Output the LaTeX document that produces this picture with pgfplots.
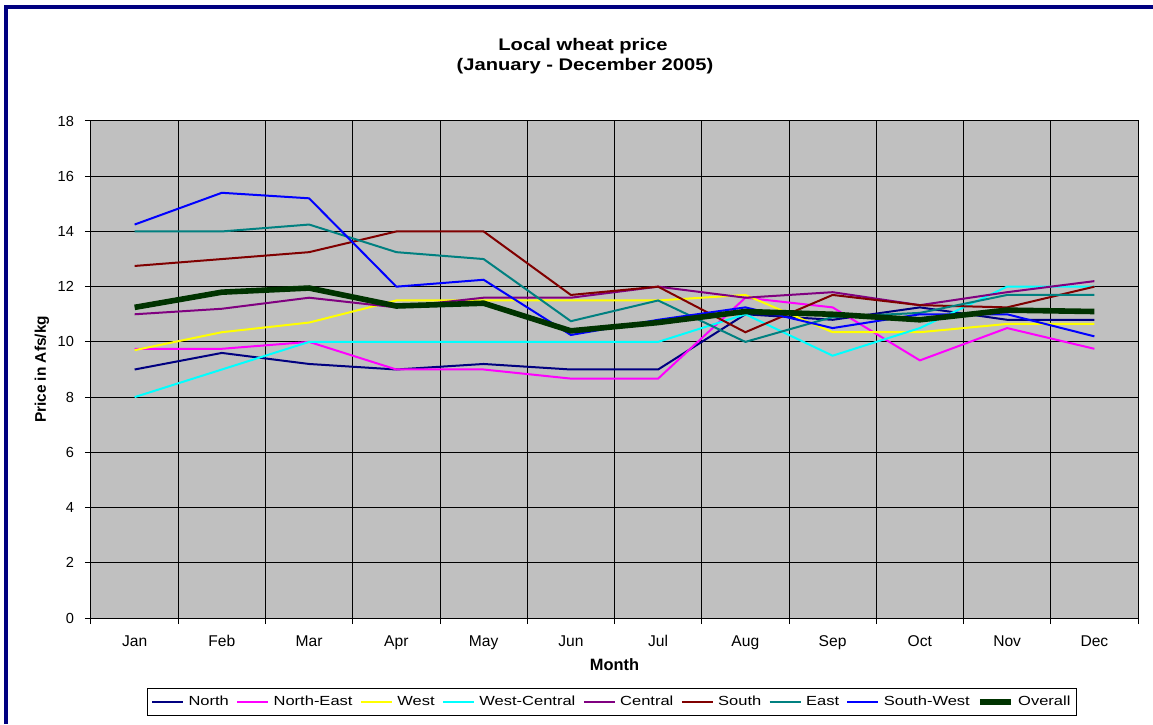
\documentclass[border=0pt]{standalone}
\usepackage{fontspec}
\setmainfont{Liberation Sans}
\newfontfamily\titlefont[FakeStretch=1.2]{Liberation Sans}
\newfontfamily\legfont[FakeStretch=1.25]{Liberation Sans}
\usepackage{pgfplots}
\usepackage{pgfplotstable}
\pgfplotsset{compat=1.18}
\definecolor{cNorth}{RGB}{0,0,128}
\definecolor{cNE}{RGB}{255,0,255}
\definecolor{cWest}{RGB}{255,255,0}
\definecolor{cWC}{RGB}{0,255,255}
\definecolor{cCentral}{RGB}{128,0,128}
\definecolor{cSouth}{RGB}{128,0,0}
\definecolor{cEast}{RGB}{0,128,128}
\definecolor{cSW}{RGB}{0,0,255}
\definecolor{cOverall}{RGB}{0,51,0}
\definecolor{plotbg}{RGB}{192,192,192}
\definecolor{frame}{RGB}{0,0,128}
\pgfplotstableread{
m North NE West WC Central South East SW Overall
1  9.0  9.75 9.7   8.0  11.0  12.75 14.0  14.25 11.25
2  9.6  9.75 10.35 9.0  11.2  13.0  14.0  15.4  11.8
3  9.2  10.0 10.7  10.0 11.6  13.25 14.25 15.2  11.95
4  9.0  9.0  11.5  10.0 11.25 14.0  13.25 12.0  11.3
5  9.2  9.0  11.5  10.0 11.6  14.0  13.0  12.25 11.4
6  9.0  8.67 11.5  10.0 11.6  11.7  10.75 10.25 10.4
7  9.0  8.67 11.5  10.0 12.0  12.0  11.5  10.8  10.7
8  11.0 11.6 11.7  11.0 11.6  10.35 10.0  11.25 11.1
9  10.8 11.25 10.35 9.5 11.8  11.7  10.9  10.5  11.0
10 11.25 9.33 10.35 10.5 11.33 11.33 11.05 11.0 10.8
11 10.8 10.5 10.65 12.0 11.8  11.25 11.7  11.0  11.15
12 10.8 9.75 10.65 12.0 12.2  12.0  11.7  10.2  11.1
}\wheat
\begin{document}
\begin{tikzpicture}
\path[use as bounding box] (0pt,0pt) rectangle (576.5pt,362pt);
\draw[frame, line width=2pt] (3pt,0pt) -- (3pt,358.5pt) -- (576.5pt,358.5pt);
\begin{axis}[
  at={(45.5pt,53pt)}, anchor=south west,
  scale only axis, width=523.5pt, height=248.5pt,
  axis background/.style={fill=plotbg},
  xmin=0.5, xmax=12.5, ymin=0, ymax=18,
  xtick={0.5,1.5,...,12.5},
  x tick label as interval,
  xticklabels={Jan,Feb,Mar,Apr,May,Jun,Jul,Aug,Sep,Oct,Nov,Dec},
  ytick={0,2,...,18},
  tick pos=left, tick align=outside,
  major tick length=3pt,
  grid=major,
  major grid style={black, line width=0.5pt},
  axis line style={black, line width=0.5pt},
  tick style={black, line width=0.5pt},
  /pgf/number format/assume math mode=true,
  xticklabel style={font=\fontsize{7.8}{9}\selectfont, text height=1.6ex, text depth=0.3ex, yshift=0.5pt},
  yticklabel style={font=\fontsize{7.3}{9}\selectfont, xshift=-2pt},
  xlabel={Month},
  xlabel style={font=\bfseries\fontsize{8.2}{9}\selectfont, at={(axis description cs:0.5,-0.0946)}, anchor=center},
  ylabel={Price in Afs/kg},
  ylabel style={font=\bfseries\fontsize{7.7}{9}\selectfont, at={(axis description cs:-0.0468,0.5)}, anchor=center},
  legend columns=9,
  legend style={at={(axis description cs:0.4976,-0.169)}, anchor=center,
    draw=black, line width=0.5pt, fill=white, font=\legfont\fontsize{6.6}{8}\selectfont,
    inner xsep=2pt, inner ysep=1.5pt,
    nodes={inner xsep=1.2pt},
    /tikz/every odd column/.append style={column sep=1pt},
    /tikz/every even column/.append style={column sep=2.5pt}},
  legend image code/.code={\draw[#1] (0pt,0pt) -- (15.5pt,0pt);},
  every axis plot/.append style={line width=1pt, mark=none},
]
\addplot[cNorth] table[x=m,y=North]{\wheat};
\addlegendentry{North}
\addplot[cNE] table[x=m,y=NE]{\wheat};
\addlegendentry{North-East}
\addplot[cWest] table[x=m,y=West]{\wheat};
\addlegendentry{West}
\addplot[cWC] table[x=m,y=WC]{\wheat};
\addlegendentry{West-Central}
\addplot[cCentral] table[x=m,y=Central]{\wheat};
\addlegendentry{Central}
\addplot[cSouth] table[x=m,y=South]{\wheat};
\addlegendentry{South}
\addplot[cEast] table[x=m,y=East]{\wheat};
\addlegendentry{East}
\addplot[cSW] table[x=m,y=SW]{\wheat};
\addlegendentry{South-West}
\addplot[cOverall, line width=2.8pt] table[x=m,y=Overall]{\wheat};
\addlegendentry{Overall}
\end{axis}
\node[anchor=base, font=\titlefont\bfseries\fontsize{8.4}{10}\selectfont] at (291.5pt,336.5pt) {Local wheat price};
\node[anchor=base, font=\titlefont\bfseries\fontsize{8.4}{10}\selectfont] at (292.5pt,326.5pt) {(January - December 2005)};
\end{tikzpicture}
\end{document}
